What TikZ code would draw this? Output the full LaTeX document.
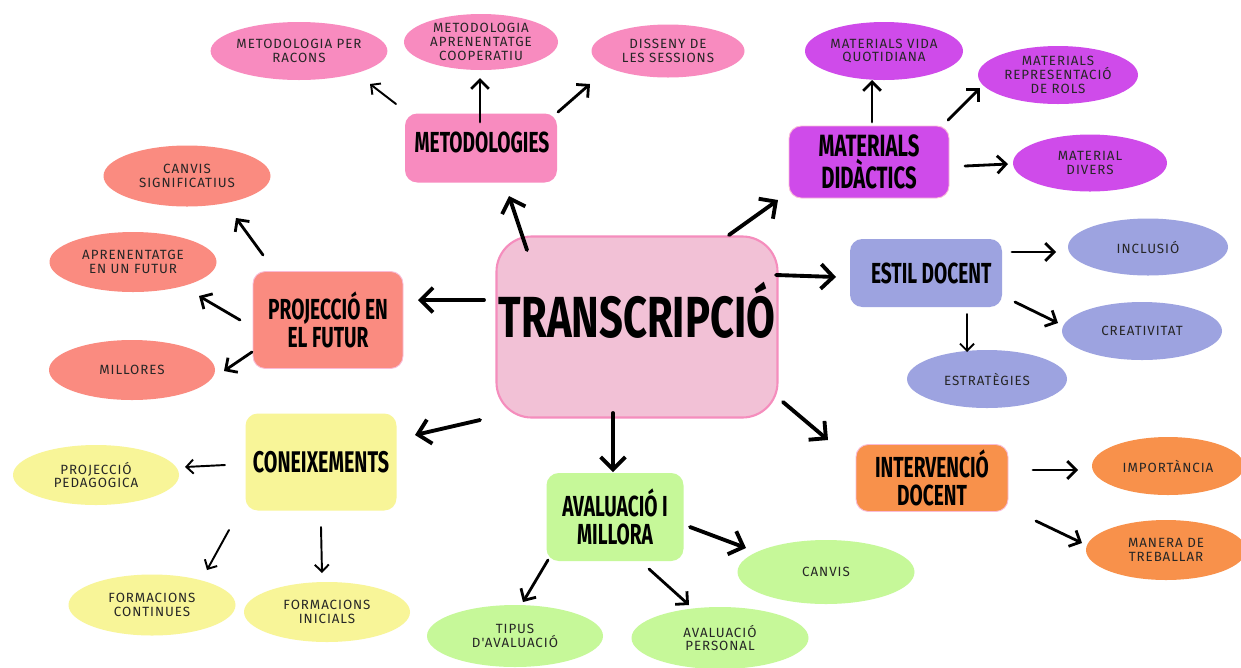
\documentclass[tikz,border=0pt]{standalone}
\usepackage{fontspec}
\usetikzlibrary{shapes.geometric,arrows.meta,calc}
\newfontfamily\headfont[FakeStretch=0.66]{Fira Sans}
\newfontfamily\bigfont[FakeStretch=0.72]{Fira Sans}
\newfontfamily\leaffont[LetterSpace=7]{Fira Sans}
\definecolor{cpinkl}{HTML}{F2C1D6}
\definecolor{cpinkb}{HTML}{F58DBD}
\definecolor{cpink}{HTML}{F88BBF}
\definecolor{cpurple}{HTML}{CF4BEA}
\definecolor{clav}{HTML}{9DA3E0}
\definecolor{corange}{HTML}{F8914B}
\definecolor{cgreen}{HTML}{C6F899}
\definecolor{cyellow}{HTML}{F8F598}
\definecolor{csalmon}{HTML}{FA8B80}
\definecolor{labelgray}{HTML}{262626}
\def\u{0.02cm}
\begin{document}
\begin{tikzpicture}[x=0.02cm,y=-0.02cm,
  hub/.style={rectangle, rounded corners=7pt, inner sep=0pt, align=center,
    font=\headfont\bfseries\fontsize{16.5}{15.8}\selectfont, text=black},
  leaf/.style={ellipse, inner sep=0pt, align=center,
    font=\leaffont\fontsize{7.6}{7.8}\selectfont, text=labelgray},
  arrM/.style={line width=2.2pt, line cap=round, -{Straight Barb[length=7pt,width=14pt]}},
  arrS/.style={line width=1.6pt, line cap=round, -{Straight Barb[length=5pt,width=10pt]}},
  arrT/.style={line width=1.1pt, line cap=round, -{Straight Barb[length=4pt,width=8pt]}}
]
\useasboundingbox (0,0) rectangle (1241,667);
\fill[white] (0,0) rectangle (1241,667);

% central
\node[hub, fill=cpinkl, draw=cpinkb, line width=1.2pt, rounded corners=20pt,
  minimum width={281*\u}, minimum height={181*\u}] (tr) at (637,327) {};
\node[anchor=base, inner sep=0pt, font=\bigfont\bfseries\fontsize{33}{33}\selectfont] (trt) at (637,337) {TRANSCRIPCIÓ};

% hubs
\node[hub, fill=cpink, minimum width={152*\u}, minimum height={69*\u}] (met) at (481,148) {};
\node[anchor=base, inner sep=0pt, font=\headfont\bfseries\fontsize{16.5}{14}\selectfont] (mett) at (482,152) {METODOLOGIES};
\node[hub, fill=cpurple, draw=cpinkb!60, line width=0.5pt, minimum width={160*\u}, minimum height={72*\u},
  font=\headfont\bfseries\fontsize{17.5}{16.5}\selectfont] (mat) at (869,162) {MATERIALS\\DIDÀCTICS};
\node[hub, fill=clav, minimum width={152*\u}, minimum height={68*\u}] (est) at (926,273) {\hspace*{6pt}ESTIL DOCENT};
\node[hub, fill=corange, draw=cpinkb!60, line width=0.5pt, minimum width={152*\u}, minimum height={67*\u}] (int) at (932,478) {INTERVENCIÓ\\DOCENT};
\node[hub, fill=cgreen, minimum width={137*\u}, minimum height={88*\u}] (ava) at (615,517) {AVALUACIÓ I\\MILLORA};
\node[hub, fill=cyellow, minimum width={151*\u}, minimum height={97*\u},
  font=\headfont\bfseries\fontsize{17}{14.5}\selectfont] (con) at (321,462) {CONEIXEMENTS};
\node[hub, fill=csalmon, draw=cpinkb!60, line width=0.5pt, minimum width={150*\u}, minimum height={97*\u}] (pro) at (328,320) {PROJECCIÓ EN\\EL FUTUR};

% leaves
\node[leaf, fill=cpink, minimum width={146*\u}, minimum height={58*\u}] (racons) at (299,51) {METODOLOGIA PER\\RACONS};
\node[leaf, fill=cpink, minimum width={154*\u}, minimum height={56*\u}] (coop) at (481,42) {METODOLOGIA\\APRENENTATGE\\COOPERATIU};
\node[leaf, fill=cpink, minimum width={153*\u}, minimum height={53*\u}] (sess) at (668,51) {DISSENY DE\\LES SESSIONS};

\node[leaf, fill=cpurple, minimum width={158*\u}, minimum height={58*\u}] (vida) at (884,51) {MATERIALS VIDA\\QUOTIDIANA};
\node[leaf, fill=cpurple, minimum width={160*\u}, minimum height={58*\u}] (rols) at (1058,75) {MATERIALS\\REPRESENTACIÓ\\DE ROLS};
\node[leaf, fill=cpurple, minimum width={154*\u}, minimum height={57*\u}] (divers) at (1090,163) {MATERIAL\\DIVERS};

\node[leaf, fill=clav, minimum width={160*\u}, minimum height={57*\u}] (incl) at (1148,247) {INCLUSIÓ};
\node[leaf, fill=clav, minimum width={160*\u}, minimum height={58*\u}] (creat) at (1142,331) {CREATIVITAT};
\node[leaf, fill=clav, minimum width={160*\u}, minimum height={58*\u}] (estr) at (987,379) {ESTRATÈGIES};

\node[leaf, fill=corange, minimum width={152*\u}, minimum height={58*\u}] (imp) at (1168,466) {IMPORTÀNCIA};
\node[leaf, fill=corange, minimum width={160*\u}, minimum height={60*\u}] (man) at (1166,550) {MANERA DE\\TREBALLAR};

\node[leaf, fill=cgreen, minimum width={177*\u}, minimum height={64*\u}] (canvis) at (826,572) {CANVIS};
\node[leaf, fill=cgreen, minimum width={176*\u}, minimum height={62*\u}] (tipus) at (515,636) {TIPUS\\D'AVALUACIÓ};
\node[leaf, fill=cgreen, minimum width={177*\u}, minimum height={62*\u}] (pers) at (720,638) {AVALUACIÓ\\PERSONAL};

\node[leaf, fill=cyellow, minimum width={166*\u}, minimum height={60*\u}] (pedag) at (96,475) {PROJECCIÓ\\PEDAGOGICA};
\node[leaf, fill=cyellow, minimum width={167*\u}, minimum height={61*\u}] (cont) at (152,605) {FORMACIONS\\CONTINUES};
\node[leaf, fill=cyellow, minimum width={166*\u}, minimum height={60*\u}] (inic) at (327,612) {FORMACIONS\\INICIALS};

\node[leaf, fill=csalmon, minimum width={167*\u}, minimum height={61*\u}] (csig) at (187,176) {CANVIS\\SIGNIFICATIUS};
\node[leaf, fill=csalmon, minimum width={167*\u}, minimum height={60*\u}] (aprn) at (133,262) {APRENENTATGE\\EN UN FUTUR};
\node[leaf, fill=csalmon, minimum width={166*\u}, minimum height={60*\u}] (mill) at (132,370) {MILLORES};

% connectors
\draw[arrM] ($(tr)+(-110,-77)$) -- ($(met)+(28,48)$);
\draw[arrT] ($(met)+(-85,-44)$) -- ($(racons)+(71,33)$);
\draw[arrS] ($(met)+(-1,-26)$) -- ($(coop)+(-1,36)$);
\draw[arrS] ($(met)+(77,-36)$) -- ($(sess)+(-78,33)$);

\draw[arrM] ($(tr)+(92,-92)$) -- ($(mat)+(-91,38)$);
\draw[arrS] ($(mat)+(3,-40)$) -- ($(vida)+(-12,29)$);
\draw[arrS] ($(mat)+(79,-42)$) -- ($(rols)+(-78,13)$);
\draw[arrS] ($(mat)+(96,4)$) -- ($(divers)+(-82,1)$);

\draw[arrM] ($(tr)+(139,-52)$) -- ($(est)+(-90,4)$);
\draw[arrS] ($(est)+(86,-21)$) -- ($(incl)+(-92,5)$);
\draw[arrS] ($(est)+(89,29)$) -- ($(creat)+(-84,-8)$);
\draw[arrT] ($(est)+(41,41)$) -- ($(estr)+(-20,-27)$);

\draw[arrM] ($(tr)+(146,75)$) -- ($(int)+(-104,-38)$);
\draw[arrS] ($(int)+(101,-8)$) -- ($(imp)+(-90,4)$);
\draw[arrS] ($(int)+(104,43)$) -- ($(man)+(-84,-7)$);

\draw[arrM] ($(tr)+(-24,86)$) -- ($(ava)+(-2,-45)$);
\draw[arrM] ($(ava)+(75,10)$) -- ($(canvis)+(-80,-24)$);
\draw[arrS] ($(ava)+(-67,43)$) -- ($(tipus)+(8,-34)$);
\draw[arrS] ($(ava)+(34,52)$) -- ($(pers)+(-31,-33)$);

\draw[arrM] ($(tr)+(-157,93)$) -- ($(con)+(94,-27)$);
\draw[arrT] ($(con)+(-96,3)$) -- ($(pedag)+(89,-8)$);
\draw[arrT] ($(con)+(-92,68)$) -- ($(cont)+(55,-35)$);
\draw[arrT] ($(con)+(0,65)$) -- ($(inic)+(-5,-39)$);

\draw[arrM] ($(tr)+(-153,-27)$) -- ($(pro)+(90,-20)$);
\draw[arrS] ($(pro)+(-65,-65)$) -- ($(csig)+(49,42)$);
\draw[arrS] ($(pro)+(-88,0)$) -- ($(aprn)+(66,34)$);
\draw[arrS] ($(pro)+(-76,32)$) -- ($(mill)+(92,1)$);
\end{tikzpicture}
\end{document}
